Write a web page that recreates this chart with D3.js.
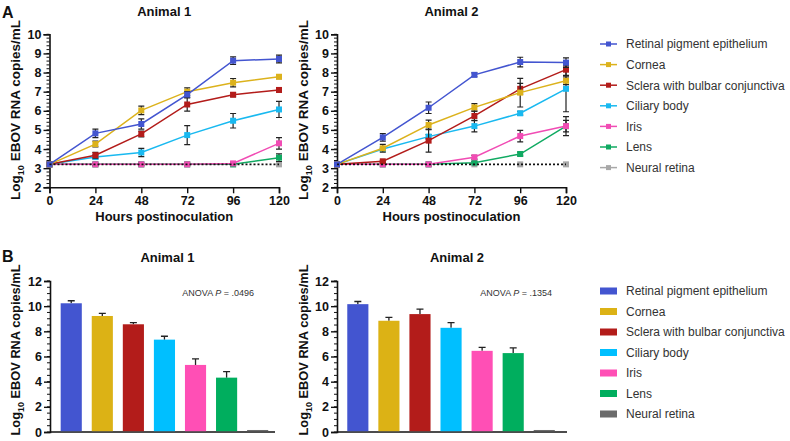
<!DOCTYPE html>
<html><head><meta charset="utf-8">
<script src="https://cdn.jsdelivr.net/npm/d3@7"></script>
<style>body{margin:0;background:#fff}svg{display:block;font-family:"Liberation Sans",Arial,sans-serif}</style>
</head><body><svg id="c" width="790" height="441"></svg>
<script>
const hours = [0, 24, 48, 72, 96, 120];
const tissues = ["Retinal pigment epithelium","Cornea","Sclera with bulbar conjunctiva","Ciliary body","Iris","Lens","Neural retina"];
const lineColors = ["#4355d0","#dcb21c","#b31c1a","#19b9f0","#f14cb4","#10aa62","#a8a8a8"];
const barColors = ["#4355d0","#dcb215","#b31c1a","#00bfff","#ff4fb5","#00ae5e","#6b6b6b"];
const yTicksA = [2,3,4,5,6,7,8,9,10];
const yTicksB = [0,2,4,6,8,10,12];
const lodValue = 3.2;

// Panel A — means per tissue (rows) per hour (cols)
const animal1Means = [
  [3.2, 4.82, 5.31, 6.85, 8.62, 8.71],
  [3.2, 4.26, 6.02, 7.0, 7.47, 7.78],
  [3.2, 3.68, 4.79, 6.33, 6.84, 7.09],
  [3.2, 3.58, 3.82, 4.73, 5.48, 6.07],
  [3.2, 3.2, 3.2, 3.2, 3.25, 4.3],
  [3.2, 3.2, 3.2, 3.2, 3.2, 3.55],
  [3.2, 3.2, 3.2, 3.2, 3.2, 3.2]
];
const animal1Err = [
  [0, 0.22, 0.27, 0.15, 0.2, 0.2],
  [0, 0.15, 0.22, 0.2, 0.22, 0.1],
  [0, 0.15, 0.15, 0.35, 0.1, 0.1],
  [0, 0.1, 0.22, 0.5, 0.38, 0.42],
  [0, 0, 0, 0, 0.05, 0.3],
  [0, 0.05, 0.05, 0.05, 0.05, 0.2],
  [0, 0, 0, 0, 0, 0]
];
const animal2Means = [
  [3.2, 4.61, 6.16, 7.88, 8.55, 8.52],
  [3.2, 4.04, 5.26, 6.18, 6.95, 7.57],
  [3.2, 3.36, 4.44, 5.73, 7.15, 8.15],
  [3.2, 4.0, 4.65, 5.2, 5.87, 7.15],
  [3.2, 3.2, 3.2, 3.57, 4.68, 5.2],
  [3.2, 3.2, 3.2, 3.29, 3.74, 5.2],
  [3.2, 3.2, 3.2, 3.2, 3.2, 3.2]
];
const animal2Err = [
  [0, 0.2, 0.3, 0.1, 0.25, 0.25],
  [0, 0.2, 0.25, 0.2, 0.75, 0.2],
  [0, 0.05, 0.6, 0.25, 0.28, 0.3],
  [0, 0.05, 0.1, 0.3, 0.1, 1.2],
  [0, 0, 0, 0.1, 0.3, 0.5],
  [0, 0, 0, 0.05, 0.1, 0.3],
  [0, 0, 0, 0, 0, 0]
];
// Panel B — bar means and SE
const barAnimal1 = [10.23, 9.22, 8.56, 7.34, 5.33, 4.32, 0.16];
const barAnimal1Err = [0.2, 0.2, 0.13, 0.27, 0.48, 0.48, 0];
const barAnimal2 = [10.16, 8.84, 9.37, 8.28, 6.45, 6.27, 0.16];
const barAnimal2Err = [0.21, 0.27, 0.4, 0.42, 0.27, 0.42, 0];
const anovaP = [".0496", ".1354"];

const svg = d3.select("#c");
const AX = "#111";
const yLabel = (g, x, y, fs) => {
  const t = g.append("text").attr("transform", `translate(${x},${y}) rotate(-90)`)
    .attr("text-anchor","middle").attr("font-weight","bold").attr("font-size",fs).attr("fill","#111");
  t.append("tspan").text("Log");
  t.append("tspan").attr("font-size",9).attr("dy",4).text("10");
  t.append("tspan").attr("dy",-4).text(" EBOV RNA copies/mL");
};

function minorTicks(g, y, domain, step, x0) {
  const vals = d3.range(domain[0], domain[1] + 1e-9, step);
  g.selectAll(null).data(vals).join("line")
    .attr("x1", x0).attr("x2", x0 - 3).attr("y1", d => y(d)).attr("y2", d => y(d))
    .attr("stroke", AX).attr("stroke-width", 1);
}

function linePanel(x0, x1, title, means, errs, labelX) {
  const g = svg.append("g");
  const x = d3.scaleLinear().domain([0,120]).range([x0, x1]);
  const y = d3.scaleLinear().domain([2,10]).range([187.3, 34.3]);
  g.append("text").attr("x",(x0+x1)/2).attr("y",16).attr("text-anchor","middle")
    .attr("font-weight","bold").attr("font-size",13).attr("fill","#111").text(title);
  minorTicks(g, y, [2,10], 0.2, x0);
  const ya = g.append("g").attr("transform",`translate(${x0},0)`)
    .call(d3.axisLeft(y).tickValues(yTicksA).tickSize(6).tickPadding(2));
  const xa = g.append("g").attr("transform",`translate(0,${y(2)})`)
    .call(d3.axisBottom(x).tickValues(hours).tickSize(6).tickPadding(3));
  [ya, xa].forEach(a => {
    a.select(".domain").attr("stroke", AX).attr("stroke-width",1.6);
    a.selectAll(".tick line").attr("stroke", AX).attr("stroke-width",1.4);
    a.selectAll(".tick text").attr("font-size",12.5).attr("font-weight","bold").attr("fill","#111")
      .attr("font-family","Liberation Sans, Arial, sans-serif");
  });
  g.append("text").attr("x",(x0+x1)/2).attr("y",221).attr("text-anchor","middle")
    .attr("font-weight","bold").attr("font-size",13).attr("fill","#111").text("Hours postinoculation");
  yLabel(g, labelX, 110, 13.5);
  for (let s = tissues.length - 1; s >= 0; s--) {
    const pts = hours.map((h,i) => ({h, v: means[s][i], e: errs[s][i]}));
    const sg = g.append("g");
    sg.selectAll(null).data(pts.filter(p => p.e > 0)).join("path")
      .attr("d", p => `M${x(p.h)},${y(p.v+p.e)}V${y(p.v-p.e)}M${x(p.h)-3},${y(p.v+p.e)}h6M${x(p.h)-3},${y(p.v-p.e)}h6`)
      .attr("stroke","#222").attr("stroke-width",1.2).attr("fill","none");
    if (s < tissues.length - 1) {
      sg.append("path").datum(pts)
        .attr("d", d3.line().x(p => x(p.h)).y(p => y(p.v)))
        .attr("fill","none").attr("stroke", lineColors[s]).attr("stroke-width",1.5);
    }
    sg.selectAll(null).data(pts).join("rect")
      .attr("x", p => x(p.h)-3).attr("y", p => y(p.v)-3).attr("width",6).attr("height",6)
      .attr("fill", lineColors[s]);
  }
  g.append("line").attr("x1", x(0)).attr("x2", x(120)).attr("y1", y(lodValue)).attr("y2", y(lodValue))
    .attr("stroke","#111").attr("stroke-width",1.6).attr("stroke-dasharray","2,2");
}

function barPanel(axX0, axX1, r0, title, vals, errs, p, labelX, anovaEnd) {
  const g = svg.append("g");
  const x = d3.scaleBand().domain(tissues).range([r0, r0 + 217.5]).paddingInner(0.32).paddingOuter(0.16);
  const y = d3.scaleLinear().domain([0,12]).range([432, 281]);
  g.append("text").attr("x",(axX0+axX1)/2 + 5).attr("y",262).attr("text-anchor","middle")
    .attr("font-weight","bold").attr("font-size",13).attr("fill","#111").text(title);
  minorTicks(g, y, [0,12], 0.5, axX0);
  const ya = g.append("g").attr("transform",`translate(${axX0},0)`)
    .call(d3.axisLeft(y).tickValues(yTicksB).tickSize(6).tickPadding(2));
  ya.select(".domain").attr("stroke", AX).attr("stroke-width",1.6);
  ya.selectAll(".tick line").attr("stroke", AX).attr("stroke-width",1.4);
  ya.selectAll(".tick text").attr("font-size",12.5).attr("font-weight","bold").attr("fill","#111")
    .attr("font-family","Liberation Sans, Arial, sans-serif");
  g.append("line").attr("x1",axX0).attr("x2",axX1).attr("y1",y(0)).attr("y2",y(0))
    .attr("stroke",AX).attr("stroke-width",1.6);
  const data = tissues.map((t,i) => ({t, v: vals[i], e: errs[i], c: barColors[i]}));
  g.selectAll(null).data(data.filter(d => d.e > 0)).join("path")
    .attr("d", d => { const cx = x(d.t) + x.bandwidth()/2; return `M${cx},${y(d.v)}V${y(d.v+d.e)}M${cx-3.5},${y(d.v+d.e)}h7`; })
    .attr("stroke","#222").attr("stroke-width",1.3).attr("fill","none");
  g.selectAll(null).data(data).join("rect")
    .attr("x", d => x(d.t)).attr("width", x.bandwidth())
    .attr("y", d => y(d.v)).attr("height", d => y(0) - y(d.v) - 0.8)
    .attr("fill", d => d.c);
  const at = g.append("text").attr("x", anovaEnd).attr("y", 296).attr("text-anchor","end")
    .attr("font-size",9).attr("fill","#333");
  at.append("tspan").text("ANOVA ");
  at.append("tspan").attr("font-style","italic").text("P");
  at.append("tspan").text(" = " + p);
  yLabel(g, labelX, 350, 12.8);
}

svg.append("text").attr("x",2).attr("y",18).attr("font-weight","bold").attr("font-size",16).attr("fill","#111").text("A");
svg.append("text").attr("x",2).attr("y",262).attr("font-weight","bold").attr("font-size",16).attr("fill","#111").text("B");

linePanel(49.5, 279, "Animal 1", animal1Means, animal1Err, 20);
linePanel(337, 566, "Animal 2", animal2Means, animal2Err, 308);
barPanel(50, 275, 55.7, "Animal 1", barAnimal1, barAnimal1Err, anovaP[0], 20, 254);
barPanel(337, 567, 342.3, "Animal 2", barAnimal2, barAnimal2Err, anovaP[1], 308, 552);

const legA = svg.append("g");
tissues.forEach((t,i) => {
  const yy = 44 + i*20.6;
  legA.append("line").attr("x1",600).attr("x2",617).attr("y1",yy).attr("y2",yy).attr("stroke",lineColors[i]).attr("stroke-width",1.5);
  legA.append("rect").attr("x",606).attr("y",yy-2.5).attr("width",5).attr("height",5).attr("fill",lineColors[i]);
  legA.append("text").attr("x",626).attr("y",yy+4.3).attr("font-size",12).attr("fill","#333").text(t);
});
const legB = svg.append("g");
tissues.forEach((t,i) => {
  const yy = 291 + i*20.5;
  legB.append("rect").attr("x",600).attr("y",yy-3.5).attr("width",17).attr("height",7).attr("fill",barColors[i]);
  legB.append("text").attr("x",626).attr("y",yy+4.3).attr("font-size",12).attr("fill","#333").text(t);
});
</script></body></html>
